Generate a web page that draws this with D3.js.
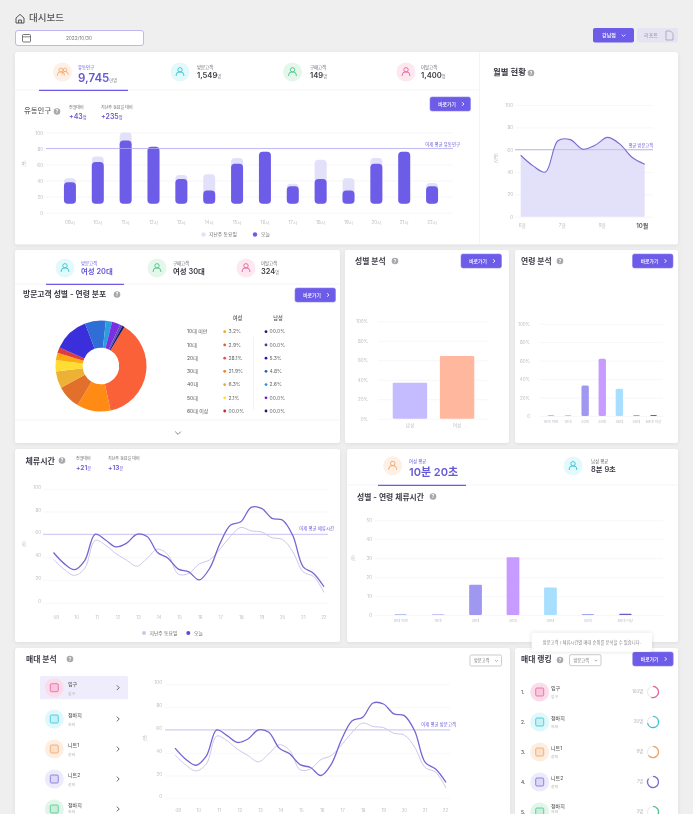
<!DOCTYPE html>
<meta charset="UTF-8">
<head>
<script src="https://cdnjs.cloudflare.com/ajax/libs/d3/7.8.5/d3.min.js"></script>
</head>
<style>
html, body { margin: 0; padding: 0; background: #efefef; overflow: hidden; }
svg { display: block; filter: blur(0.4px); }
text { font-family: Inter, "Noto Sans CJK KR", sans-serif; }
.card { fill: #fff; filter: drop-shadow(0 1px 2px rgba(0,0,0,.07)); }
.domain { display: none; }
</style>
<body>
<div id='chart'></div>
<script>

// ---------- data ----------
var topTabNames = ["유동인구", "방문고객", "구매고객", "이탈고객"];
var topTabValues = ["9,745", "1,549", "149", "1,400"];
var topTabUnits = ["만명", "명", "명", "명"];

var hourBarLabels = ["09시","10시","11시","12시","13시","14시","15시","16시","17시","18시","19시","20시","21시","22시"];
var barsToday = [38, 63, 90, 82, 42, 27.5, 61, 76, 33, 42, 27.5, 61, 76, 33];
var barsLastWeek = [43, 70, 100, 82, 47, 48, 68, 76, 36, 66, 43, 68, 76, 37];
var barFloor = 11;
var flowAverage = 80;

var monthLabels = ["6월", "7월", "9월", "10월"];
var monthValues = [55, 45.5, 40, 68, 69, 60.5, 64, 71, 65, 53, 47];
var monthAverage = 60;

var visitTabNames = ["방문고객", "구매고객", "이탈고객"];
var visitTabValues = ["여성 20대", "여성 30대", "324"];

var donutShares = [38, 12, 8.5, 6, 4, 2.6, 2, 12.6, 7.4, 2.2, 3, 0.9, 0.8];
var donutColors = ["#fb6139","#ff8b14","#e2702a","#edb136","#ffdd33","#ffaa10","#e03c3c","#3b2fdc","#2f6ed6","#2a9fe0","#7a2fe0","#5a4fb8","#1c1a6b"];

var ageLabels = ["10대 미만","10대","20대","30대","40대","50대","60대 이상"];
var femaleShares = ["3.2%","2.9%","28.1%","21.9%","6.3%","2.1%","00.0%"];
var maleShares = ["00.0%","00.0%","5.3%","4.8%","2.6%","00.0%","00.0%"];
var femaleDots = ["#f5a623","#d9622b","#ef4f3a","#f47e1c","#e9a93a","#ffdd33","#d0202f"];
var maleDots = ["#1c1a6b","#453a9e","#2018b8","#2a5cc0","#2a8fd8","#6a1fc8","#1c1a6b"];

var genderLabels = ["남성", "여성"];
var genderValues = [37, 64.5];
var genderColors = ["#c4bcff", "#ffb79e"];

var ageBarValues = [1, 1, 33, 62, 29.5, 1, 1];
var stayAgeValues = [0.5, 0.5, 16, 30.5, 14.5, 0.5, 0.7];
var ageBarColors = ["#b9c3f2","#cbc6f5","#9f97f0","#c79bff","#a8dfff","#9fa8e8","#6a5cc0"];

var stayHourLabels = ["09","10","11","12","13","14","15","16","17","18","19","20","21","22"];
// half hour samples
var lineToday = [44,34.5,29,37,60,55,49,52,60,58,44,39,29.5,27,20,30,52,68,71,83.6,82.7,74,72.5,59,31.5,25.7,14];
var lineLastWeek = [38,29.5,24,30,54.6,50.5,43,37.5,32,39,47,42,25,25.7,34,37.5,47,58,66,63,62,57,55.5,44.7,27,23,9];
var lineAverage = 60;

var stayTabNames = ["여성 평균", "남성 평균"];
var stayTabValues = ["10분 20초", "8분 9초"];

var shelfNames = ["입구", "청바지", "니트1", "니트2", "청바지"];
var shelfKinds = ["입구", "하의", "상의", "상의", "하의"];
var shelfCounts = ["100명", "20명", "9명", "7명", "3명"];
var shelfRings = [0.55, 0.72, 0.65, 0.85, 0.6];

// ---------- palette ----------
var purple = "#6c5ce7", purpleText = "#6558d6";
var gridColor = "#f3f3f7", tickColor = "#bcbcc4", ink = "#3a3a44", midInk = "#666";
var shelfLine = ["#e8609a","#2fc5d5","#f4a261","#7a6ccf","#4cc38a"];
var shelfBack = ["#fbdcea","#e0f8fb","#fdeee2","#ecebfb","#e0f6ea"];
var shelfFill = ["#f8c7de","#c6f1f6","#fbe0cb","#dcd9f7","#c9efdb"];

var svg = d3.select("#chart").append("svg").attr("width", 693).attr("height", 814);

// ---------- little drawing helpers ----------
function label(x, y, s, size, color, weight, anchor) {
  return svg.append("text").attr("x", x).attr("y", y).attr("dy", ".35em")
    .attr("font-size", size).attr("fill", color)
    .attr("font-weight", weight || 400).attr("text-anchor", anchor || "start").text(s);
}

function card(x, y, w, h) {
  svg.append("rect").attr("class", "card").attr("x", x).attr("y", y).attr("width", w).attr("height", h).attr("rx", 2.5);
}

function hline(x0, x1, y, color, width) {
  svg.append("line").attr("x1", x0).attr("x2", x1).attr("y1", y).attr("y2", y).attr("stroke", color).attr("stroke-width", width);
}

function helpIcon(cx, cy) {
  svg.append("circle").attr("cx", cx).attr("cy", cy).attr("r", 3.3).attr("fill", "#a9a9ad");
  label(cx, cy, "?", 4.5, "#fff", 700, "middle");
}

function chevron(cx, cy, size, color, dir, width) {
  var p = dir == "down" ? [[-size, -size/2], [0, size/2], [size, -size/2]] : [[-size/2, -size], [size/2, 0], [-size/2, size]];
  svg.append("path").attr("d", d3.line()(p.map(function(d) { return [cx + d[0], cy + d[1]]; })))
    .attr("fill", "none").attr("stroke", color).attr("stroke-width", width || 0.9);
}

function goButton(x, y) {
  svg.append("rect").attr("x", x).attr("y", y).attr("width", 40.5).attr("height", 14).attr("rx", 2)
    .attr("fill", purple).attr("stroke", "#8d80f0").attr("stroke-width", 0.6);
  label(x + 17, y + 7, "바로가기", 4.8, "#fff", 500, "middle");
  chevron(x + 33, y + 7, 1.8, "#fff", "right", 0.9);
}

function person(cx, cy, color, k) {
  var g = svg.append("g").attr("transform", "translate(" + cx + "," + cy + ") scale(" + (k || 1) + ")");
  g.append("circle").attr("cy", -2.2).attr("r", 2.2).attr("fill", "none").attr("stroke", color).attr("stroke-width", 0.9);
  g.append("path").attr("d", "M-3.8,4v-1a3,3 0 0 1 3,-3h1.6a3,3 0 0 1 3,3v1")
    .attr("fill", "none").attr("stroke", color).attr("stroke-width", 0.9);
}

function tabCircle(cx, cy, back, color, two) {
  svg.append("circle").attr("cx", cx).attr("cy", cy).attr("r", 9.5).attr("fill", back);
  if (two) {
    person(cx + 2.6, cy - 0.4, color, 0.8);
    person(cx - 1.6, cy, color, 0.9);
  } else {
    person(cx, cy, color);
  }
}

function shelfIcon(cx, cy, i) {
  svg.append("circle").attr("cx", cx).attr("cy", cy).attr("r", 9.5).attr("fill", shelfBack[i]);
  svg.append("rect").attr("x", cx - 4).attr("y", cy - 4).attr("width", 8).attr("height", 8).attr("rx", 1.2)
    .attr("fill", shelfFill[i]).attr("stroke", shelfLine[i]).attr("stroke-width", 0.8);
}

function selectBox(x, y, w) {
  svg.append("rect").attr("x", x).attr("y", y).attr("width", w).attr("height", 11).attr("rx", 1.5)
    .attr("fill", "#fff").attr("stroke", "#a9a9b3").attr("stroke-width", 0.6);
  label(x + 4, y + 5.5, "방문고객", 4.2, "#777");
  chevron(x + w - 5, y + 5.8, 1.4, "#777", "down", 0.6);
}

// y axis with long ticks used as the grid
function yAxis(scale, left, right, values, fmt, labelGap, lift) {
  var g = svg.append("g").attr("transform", "translate(" + left + ",0)")
    .call(d3.axisLeft(scale).tickValues(values).tickFormat(fmt).tickSize(-(right - left)).tickPadding(labelGap));
  g.selectAll("line").attr("stroke", gridColor).attr("stroke-width", 0.7);
  g.selectAll("text").attr("font-size", 4.5).attr("fill", tickColor).attr("dy", (lift || 0) + 1.6);
}

function xAxis(scale, y, size) {
  var g = svg.append("g").attr("transform", "translate(0," + y + ")").call(d3.axisBottom(scale).tickSize(0).tickPadding(0));
  g.selectAll("text").attr("font-size", size || 4.5).attr("fill", tickColor);
  return g;
}

// ---------- page header ----------
svg.append("path").attr("d", "M16,18l4,-3.6l4,3.6v5h-8z M18.6,23v-3h2.8v3").attr("fill", "none").attr("stroke", "#444").attr("stroke-width", 0.9);
label(29, 18, "대시보드", 9.5, "#555", 500);

svg.append("rect").attr("x", 15.5).attr("y", 30.5).attr("width", 128).attr("height", 15).attr("rx", 2.5)
  .attr("fill", "#fff").attr("stroke", "#b9aef0").attr("stroke-width", 0.9);
svg.append("rect").attr("x", 22.5).attr("y", 34.5).attr("width", 8).attr("height", 7.5).attr("rx", 1).attr("fill", "none").attr("stroke", "#555").attr("stroke-width", 0.8);
hline(22.5, 30.5, 36.8, "#555", 0.7);
label(79, 38, "2022/10/30", 4.8, "#777", 400, "middle");

svg.append("rect").attr("x", 593).attr("y", 28).attr("width", 41).attr("height", 14.5).attr("rx", 2).attr("fill", purple);
label(609, 35.2, "강남점", 5, "#fff", 500, "middle");
chevron(623.5, 35.5, 1.8, "#fff", "down", 0.8);
svg.append("rect").attr("x", 637).attr("y", 28).attr("width", 41).attr("height", 14.5).attr("rx", 2).attr("fill", "#e6e4f2");
label(651, 35.2, "리포트", 5, "#a8a8b8", 500, "middle");
svg.append("path").attr("d", "M666,31h4.5l2.5,2.5v6.5h-7z").attr("fill", "none").attr("stroke", "#9a9aaa").attr("stroke-width", 0.7);

// ---------- top card ----------
card(15, 52, 663, 192.5);
svg.append("line").attr("x1", 479.5).attr("x2", 479.5).attr("y1", 52).attr("y2", 244.5).attr("stroke", "#f1f1f4").attr("stroke-width", 0.8);
hline(15, 479, 90, "#f3f3f6", 0.8);
hline(39, 128, 90.4, purple, 1.3);

var topCircleX = [62.5, 180, 292.5, 406];
var topTextX = [78, 197, 310, 421];
var topBack = ["#fdf0e6", "#e3f9fb", "#e4f7ea", "#fde8ef"];
var topLine = ["#f4a261", "#2fc5d5", "#4cc38a", "#e8609a"];
topTabNames.forEach(function(name, i) {
  tabCircle(topCircleX[i], 72, topBack[i], topLine[i], i == 0);
  label(topTextX[i], 67, name, 4.4, i == 0 ? purpleText : midInk);
  var big = i == 0;
  var v = label(topTextX[i], big ? 77.5 : 75.5, topTabValues[i], big ? 11.5 : 7.6, big ? purpleText : ink, 600);
  v.append("tspan").attr("font-size", 4.2).attr("font-weight", 400).attr("fill", "#888").text(topTabUnits[i]);
});

label(24, 110, "유동인구", 7.4, midInk, 500);
helpIcon(57, 111.5);
label(69, 108, "전월대비", 4, midInk);
label(69, 117, "+43", 7, purpleText, 600).append("tspan").attr("font-size", 4.2).attr("font-weight", 400).text("명");
label(101, 108, "지난주 동요일 대비", 4, midInk);
label(101, 117, "+235", 7, purpleText, 600).append("tspan").attr("font-size", 4.2).attr("font-weight", 400).text("명");
goButton(430, 97);

var flowY = d3.scaleLinear().domain([0, 100]).range([212.7, 132.4]);
var flowX = d3.scaleBand().domain(hourBarLabels).range([56, 446]).paddingInner(0.57).paddingOuter(0.285);
yAxis(flowY, 46, 453, [0, 20, 40, 60, 80, 100], d3.format("d"), 3);
label(25, 163.5, "(명)", 4, tickColor, 400, "middle").attr("transform", "rotate(-90 25 163.5)");
xAxis(flowX, 221, 4.5);

function bars(values, color) {
  svg.append("g").selectAll("rect").data(values).enter().append("rect")
    .attr("x", function(d, i) { return flowX(hourBarLabels[i]); })
    .attr("y", function(d) { return flowY(d); })
    .attr("width", flowX.bandwidth())
    .attr("height", function(d) { return flowY(barFloor) - flowY(d); })
    .attr("rx", 3.8)
    .attr("fill", color);
}
bars(barsLastWeek, "#e3e0f9");
bars(barsToday, purple);
hline(46, 453, flowY(flowAverage), "#b3abf2", 0.8);
label(460, 144.2, "어제 평균 유동인구", 4.4, purpleText, 400, "end");

svg.append("circle").attr("cx", 203.5).attr("cy", 234.5).attr("r", 2.2).attr("fill", "#e3e0f9");
label(209, 234.5, "지난주 동요일", 4.8, midInk);
svg.append("circle").attr("cx", 255).attr("cy", 234.5).attr("r", 2.2).attr("fill", purple);
label(261, 234.5, "오늘", 4.8, midInk);

// ---------- monthly ----------
label(493, 72.5, "월별 현황", 8.4, ink, 600);
helpIcon(531, 73);
var monthY = d3.scaleLinear().domain([0, 100]).range([216.7, 105]);
var monthSlot = d3.scaleLinear().domain([0, monthValues.length - 1]).range([520.7, 644.7]);
var monthX = d3.scalePoint().domain(monthLabels).range([521.7, 641.7]);
yAxis(monthY, 515, 653, [0, 20, 40, 60, 80, 100], d3.format("d"), 2);
label(496.5, 158, "(만명)", 4, tickColor, 400, "middle").attr("transform", "rotate(-90 496.5 158)");
var monthAxis = xAxis(monthX, 224, 4.6);
monthAxis.selectAll("text").filter(function(d) { return d == "10월"; }).attr("font-size", 6).attr("fill", "#555").attr("font-weight", 600).attr("dy", ".6em");

var smooth = d3.curveCatmullRom.alpha(0.5);
var monthArea = d3.area().x(function(d, i) { return monthSlot(i); }).y0(monthY(0)).y1(function(d) { return monthY(d); }).curve(smooth);
var monthLine = d3.line().x(function(d, i) { return monthSlot(i); }).y(function(d) { return monthY(d); }).curve(smooth);
svg.append("path").attr("d", monthArea(monthValues)).attr("fill", "#e3e0f9");
hline(515, 653, monthY(monthAverage), "#c9c3f3", 1.2);
svg.append("path").attr("d", monthLine(monthValues)).attr("fill", "none").attr("stroke", "#7a6ccf").attr("stroke-width", 1.1);
label(653, 145.5, "평균 방문고객", 4.2, purpleText, 400, "end");

// ---------- visitor donut ----------
card(15, 250, 325, 193);
hline(15, 340, 284, "#f3f3f6", 0.8);
hline(46, 124, 284.4, purple, 1.3);
var visitCircleX = [65, 157, 246];
var visitTextX = [81, 173, 261];
var visitBack = ["#e3f9fb", "#e4f7ea", "#fde8ef"];
var visitLine = ["#2fc5d5", "#4cc38a", "#e8609a"];
visitTabNames.forEach(function(name, i) {
  tabCircle(visitCircleX[i], 268, visitBack[i], visitLine[i]);
  label(visitTextX[i], 263, name, 4.4, i == 0 ? purpleText : midInk);
  var v = label(visitTextX[i], 271, visitTabValues[i], 7.4, i == 0 ? purpleText : ink, 600);
  if (i == 2) v.append("tspan").attr("font-size", 4.2).attr("font-weight", 400).attr("fill", "#888").text("명");
});
label(23, 294.5, "방문고객 성별 - 연령 분포", 7.8, ink, 600);
helpIcon(117, 294.5);
goButton(295, 288);

var pie = d3.pie().sort(null).startAngle(31 * Math.PI / 180).endAngle((360 + 31) * Math.PI / 180);
var arc = d3.arc().innerRadius(18.3).outerRadius(45.5);
svg.append("g").attr("transform", "translate(101,366)").selectAll("path").data(pie(donutShares)).enter().append("path")
  .attr("d", arc).attr("fill", function(d, i) { return donutColors[i]; });

label(237.5, 318, "여성", 5.2, "#555", 500, "middle");
label(278, 318, "남성", 5.2, "#555", 500, "middle");
var rowY = d3.scalePoint().domain(ageLabels).range([331.7, 411]);
ageLabels.forEach(function(age, i) {
  var y = rowY(age);
  label(187, y, age, 5, "#555");
  svg.append("circle").attr("cx", 224.7).attr("cy", y).attr("r", 1.4).attr("fill", femaleDots[i]);
  label(228.5, y, femaleShares[i], 5, "#666");
  svg.append("circle").attr("cx", 266).attr("cy", y).attr("r", 1.4).attr("fill", maleDots[i]);
  label(269.5, y, maleShares[i], 5, "#666");
});
svg.append("line").attr("x1", 253.5).attr("x2", 253.5).attr("y1", 337).attr("y2", 410).attr("stroke", "#eeeef2").attr("stroke-width", 0.7);
hline(15, 340, 420, "#f3f3f6", 0.8);
chevron(178, 433, 2.8, "#666", "down", 0.8);

// ---------- gender ----------
card(345, 250, 164, 193);
label(355, 261, "성별 분석", 7.8, ink, 600);
helpIcon(395, 261);
goButton(461, 254);
var genderY = d3.scaleLinear().domain([0, 100]).range([418.7, 321.3]);
var genderX = d3.scaleBand().domain(genderLabels).range([380, 487]).padding(0.27);
yAxis(genderY, 378, 488, [0, 20, 40, 60, 80, 100], function(d) { return d + "%"; }, 10);
xAxis(genderX, 423.5);
svg.append("g").selectAll("rect").data(genderValues).enter().append("rect")
  .attr("x", function(d, i) { return genderX(genderLabels[i]); })
  .attr("y", function(d) { return genderY(d); })
  .attr("width", genderX.bandwidth())
  .attr("height", function(d) { return genderY(0) - genderY(d); })
  .attr("rx", 1.2)
  .attr("fill", function(d, i) { return genderColors[i]; });

// ---------- age ----------
card(515, 250, 163, 193);
label(521, 261, "연령 분석", 7.8, ink, 600);
helpIcon(560, 261);
goButton(632.5, 254);
var ageY = d3.scaleLinear().domain([0, 100]).range([416, 323.7]);
var ageX = d3.scaleBand().domain(ageLabels).range([537.5, 667]).padding(0.57);
yAxis(ageY, 540, 663, [0, 20, 40, 60, 80, 100], function(d) { return d ? d + "%" : "0"; }, 10);
xAxis(ageX, 420.5, 3.6);
svg.append("g").selectAll("rect").data(ageBarValues).enter().append("rect")
  .attr("x", function(d, i) { return ageX(ageLabels[i]); })
  .attr("y", function(d) { return ageY(d); })
  .attr("width", ageX.bandwidth())
  .attr("height", function(d) { return ageY(0) - ageY(d); })
  .attr("rx", 1.5)
  .attr("fill", function(d, i) { return ageBarColors[i]; });

// shared two line chart, used by the stay time card and the shelf card
function twoLines(slotX, y) {
  var line = d3.line().x(function(d, i) { return slotX(i); }).y(function(d) { return y(d); }).curve(smooth);
  svg.append("path").attr("d", line(lineLastWeek)).attr("fill", "none").attr("stroke", "#cdc8e8").attr("stroke-width", 1);
  svg.append("path").attr("d", line(lineToday)).attr("fill", "none").attr("stroke", "#7466d4").attr("stroke-width", 1.3);
}

// ---------- stay time ----------
card(15, 449, 325, 193);
label(25.5, 461, "체류시간", 8, ink, 600);
helpIcon(62, 460.5);
label(76, 459, "전월대비", 4, midInk);
label(76, 468, "+21", 6.6, purpleText, 600).append("tspan").attr("font-size", 4.2).attr("font-weight", 400).text("분");
label(108, 459, "지난주 동요일 대비", 4, midInk);
label(108, 468, "+13", 6.6, purpleText, 600).append("tspan").attr("font-size", 4.2).attr("font-weight", 400).text("분");

var stayY = d3.scaleLinear().domain([0, 100]).range([602.7, 488.7]);
var staySlot = d3.scaleLinear().domain([0, lineToday.length - 1]).range([53.5, 324]);
var stayHourX = d3.scalePoint().domain(stayHourLabels).range([55.7, 323.3]);
yAxis(stayY, 43, 328, [0, 20, 40, 60, 80, 100], d3.format("d"), 2, -2);
label(25, 544, "(분)", 4, tickColor, 400, "middle").attr("transform", "rotate(-90 25 544)");
xAxis(stayHourX, 615.5, 4.4);
hline(43, 328, stayY(lineAverage), "#c9c3f3", 1);
twoLines(staySlot, stayY);
label(334, 528, "어제 평균 체류시간", 4.4, purpleText, 400, "end");
svg.append("circle").attr("cx", 144).attr("cy", 633).attr("r", 2).attr("fill", "#cdc8e8");
label(149.5, 633, "지난주 동요일", 4.8, midInk);
svg.append("circle").attr("cx", 188.3).attr("cy", 633).attr("r", 2).attr("fill", "#5a4bd0");
label(194, 633, "오늘", 4.8, midInk);

// ---------- stay time by age ----------
card(347, 449, 331, 193);
hline(347, 678, 485, "#f3f3f6", 0.8);
hline(378, 466, 485.3, purple, 1.3);
tabCircle(392.7, 465.7, "#fdf0e6", "#f4a261");
tabCircle(573, 466, "#e3f9fb", "#2fc5d5");
label(409, 461, stayTabNames[0], 4.4, purpleText);
label(409, 472, stayTabValues[0], 11, purpleText, 600);
label(591, 461, stayTabNames[1], 4.4, midInk);
label(591, 469.5, stayTabValues[1], 7.4, ink, 600);
label(357, 497, "성별 - 연령 체류시간", 7.8, ink, 600);
helpIcon(433, 496.5);
var stayAgeY = d3.scaleLinear().domain([0, 50]).range([615, 520.3]);
var stayAgeX = d3.scaleBand().domain(ageLabels).range([369.5, 656.5]).padding(0.66);
yAxis(stayAgeY, 375, 663, [0, 10, 20, 30, 40, 50], d3.format("d"), 3);
label(353.5, 558, "(분)", 4, tickColor, 400, "middle").attr("transform", "rotate(-90 353.5 558)");
xAxis(stayAgeX, 619.5, 3.6);
svg.append("g").selectAll("rect").data(stayAgeValues).enter().append("rect")
  .attr("x", function(d, i) { return stayAgeX(ageLabels[i]); })
  .attr("y", function(d) { return stayAgeY(d); })
  .attr("width", stayAgeX.bandwidth())
  .attr("height", function(d) { return stayAgeY(0) - stayAgeY(d); })
  .attr("rx", 1)
  .attr("fill", function(d, i) { return ageBarColors[i]; });

// ---------- shelf analysis ----------
card(15, 648, 495, 180);
label(26, 659.5, "매대 분석", 7.8, ink, 600);
helpIcon(70, 659);
selectBox(470, 655, 31.5);
svg.append("rect").attr("x", 40).attr("y", 676).attr("width", 88).attr("height", 23.3).attr("rx", 1.5).attr("fill", "#efecfb");
var listY = [687.7, 719, 749, 779, 809];
shelfNames.forEach(function(name, i) {
  shelfIcon(54.3, listY[i], i);
  label(68, listY[i] - 3.4, name, 5, "#666", 500);
  // last row runs off the bottom of the page, keep its small line inside
  label(68, Math.min(listY[i] + 5.6, 811.6), shelfKinds[i], 3.8, "#aaa");
  chevron(118, listY[i], 2.4, "#555", "right", 0.9);
});

var shelfY = d3.scaleLinear().domain([0, 100]).range([798.3, 684.3]);
var shelfSlot = d3.scaleLinear().domain([0, lineToday.length - 1]).range([175, 446]);
var shelfHourX = d3.scalePoint().domain(stayHourLabels).range([177.7, 445]);
yAxis(shelfY, 165, 450, [0, 20, 40, 60, 80, 100], d3.format("d"), 3, -2);
label(146, 738, "(명)", 4, tickColor, 400, "middle").attr("transform", "rotate(-90 146 738)");
xAxis(shelfHourX, 808.5, 4.4);
hline(165, 450, shelfY(lineAverage), "#c9c3f3", 1);
twoLines(shelfSlot, shelfY);
label(456, 724, "어제 평균 방문고객", 4.4, purpleText, 400, "end");

// ---------- shelf ranking ----------
card(515, 648, 163, 180);
label(521, 659.5, "매대 랭킹", 7.8, ink, 600);
helpIcon(560, 660);
selectBox(569.5, 654.7, 31.5);
goButton(632.7, 652);
var rankY = [692, 722, 752, 782, 812];
var ring = d3.arc().innerRadius(4.9).outerRadius(6.2).startAngle(0);
shelfNames.forEach(function(name, i) {
  label(521, rankY[i], (i + 1) + ".", 4.8, "#555", 500);
  shelfIcon(539.7, rankY[i], i);
  label(551, Math.min(rankY[i] - 4, 806.5), name, 5, "#666", 500);
  label(551, Math.min(rankY[i] + 5, 811.6), shelfKinds[i], 3.8, "#aaa");
  label(643, rankY[i], shelfCounts[i], 4.2, "#b0b0b8", 400, "end");
  svg.append("circle").attr("cx", 653).attr("cy", rankY[i]).attr("r", 5.5).attr("fill", "none").attr("stroke", "#ececf0").attr("stroke-width", 1.2);
  svg.append("path").attr("transform", "translate(653," + rankY[i] + ")")
    .attr("d", ring({ endAngle: shelfRings[i] * 2 * Math.PI })).attr("fill", shelfLine[i]);
});

// tooltip sits on top of both cards
svg.append("rect").attr("class", "card").attr("x", 531.7).attr("y", 632.7).attr("width", 120.3).attr("height", 19).attr("rx", 2).style("filter", "drop-shadow(0 0 2px rgba(0,0,0,.13))");
label(591.8, 642, "방문고객 / 체류시간별 매대 순위를 분석할 수 있습니다.", 4.3, "#888", 400, "middle");

</script>
</body>
